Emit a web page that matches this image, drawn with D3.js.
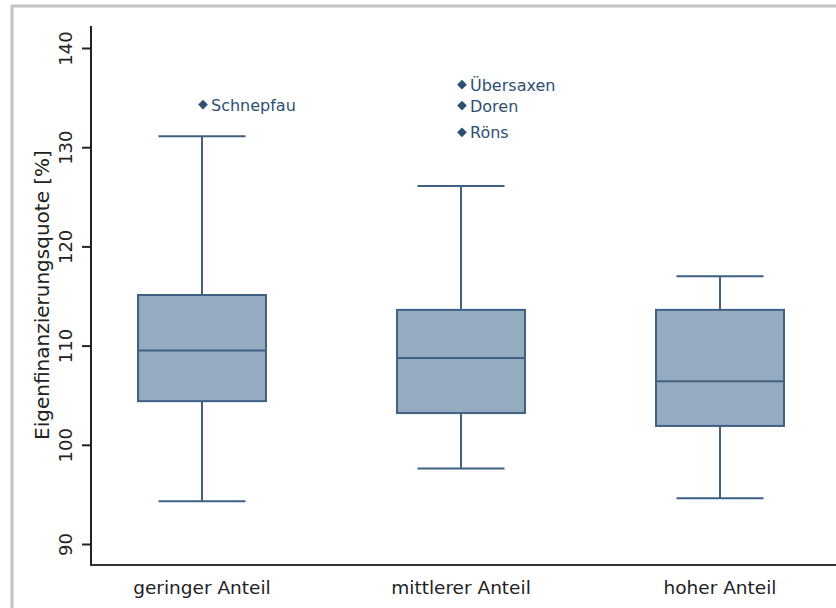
<!DOCTYPE html>
<html><head><meta charset="utf-8">
<script src="https://cdn.jsdelivr.net/npm/d3@7"></script>
<style>body{margin:0;background:#fff}svg text{font-family:"DejaVu Sans",Verdana,sans-serif}</style>
</head><body>
<svg id="c" width="836" height="608"></svg>
<script>
const categories = ["geringer Anteil", "mittlerer Anteil", "hoher Anteil"];
const whiskerLow  = [94.3, 97.6, 94.6];
const q1          = [104.4, 103.2, 101.9];
const median      = [109.5, 108.75, 106.4];
const q3          = [115.1, 113.6, 113.6];
const whiskerHigh = [131.1, 126.1, 117.0];
const outlierCat   = ["geringer Anteil", "mittlerer Anteil", "mittlerer Anteil", "mittlerer Anteil"];
const outlierValue = [134.3, 136.3, 134.2, 131.5];
const outlierName  = ["Schnepfau", "Übersaxen", "Doren", "Röns"];
const yTicks = [90, 100, 110, 120, 130, 140];
const yLabel = "Eigenfinanzierungsquote [%]";

const svg = d3.select("#c");
const mLeft = 91, mTop = 26, mBottom = 565, mRight = 836;
const stroke = "#3f6184", fill = "#96abbf";

// outer frame
svg.append("rect").attr("x", 12).attr("y", 6).attr("width", 840).attr("height", 620)
  .attr("fill", "none").attr("stroke", "#c4c4c4").attr("stroke-width", 3);

const y = d3.scaleLinear().domain([90, 140]).range([544, 48]);
const x = d3.scalePoint().domain(categories).range([mLeft, 831]).padding(3/7);
const step = x.step();
const boxW = step * 0.494, capW = step * 0.336;

// axes
svg.append("line").attr("x1", mLeft).attr("x2", mLeft).attr("y1", mTop).attr("y2", mBottom)
  .attr("stroke", "#222").attr("stroke-width", 2);
svg.append("line").attr("x1", mLeft - 1).attr("x2", mRight).attr("y1", mBottom).attr("y2", mBottom)
  .attr("stroke", "#333").attr("stroke-width", 2);

const yAxis = svg.append("g").attr("transform", `translate(${mLeft},0)`)
  .call(d3.axisLeft(y).tickValues(yTicks).tickSize(9).tickFormat(d3.format("d")));
yAxis.select(".domain").remove();
yAxis.selectAll(".tick line").attr("stroke", "#222").attr("stroke-width", 2);
yAxis.selectAll(".tick text").attr("fill", "#222").style("font-size", "18px")
  .attr("font-family", null)
  .attr("x", 0).attr("y", 0).attr("dy", 0).attr("text-anchor", "middle")
  .attr("transform", "translate(-19,0) rotate(-90)");
yAxis.attr("font-family", null);

svg.append("text").attr("transform", `translate(49,${y(115.1)}) rotate(-90)`)
  .attr("text-anchor", "middle").attr("fill", "#222").style("font-size", "20px").text(yLabel);

// x labels
svg.selectAll(".xl").data(categories).enter().append("text")
  .attr("x", d => x(d)).attr("y", 594).attr("text-anchor", "middle")
  .attr("fill", "#222").style("font-size", "18.5px").text(d => d);

// boxes
categories.forEach((c, i) => {
  const cx = x(c);
  const g = svg.append("g").attr("stroke", stroke).attr("stroke-width", 2);
  g.append("line").attr("x1", cx).attr("x2", cx).attr("y1", y(whiskerHigh[i])).attr("y2", y(q3[i]));
  g.append("line").attr("x1", cx).attr("x2", cx).attr("y1", y(q1[i])).attr("y2", y(whiskerLow[i]));
  g.append("line").attr("x1", cx - capW/2).attr("x2", cx + capW/2).attr("y1", y(whiskerHigh[i])).attr("y2", y(whiskerHigh[i]));
  g.append("line").attr("x1", cx - capW/2).attr("x2", cx + capW/2).attr("y1", y(whiskerLow[i])).attr("y2", y(whiskerLow[i]));
  g.append("rect").attr("x", cx - boxW/2).attr("width", boxW)
    .attr("y", y(q3[i])).attr("height", y(q1[i]) - y(q3[i])).attr("fill", fill);
  g.append("line").attr("x1", cx - boxW/2).attr("x2", cx + boxW/2).attr("y1", y(median[i])).attr("y2", y(median[i]));
});

// outliers
const diamond = d3.symbol().type(d3.symbolDiamond2).size(60);
outlierName.forEach((n, i) => {
  const cx = x(outlierCat[i]) + 1, cy = y(outlierValue[i]);
  svg.append("path").attr("d", diamond).attr("transform", `translate(${cx},${cy})`).attr("fill", "#2d4f72");
  svg.append("text").attr("x", cx + 8).attr("y", cy + 6).attr("fill", "#2d4f72")
    .style("font-size", "16px").text(n);
});
</script>
</body></html>
